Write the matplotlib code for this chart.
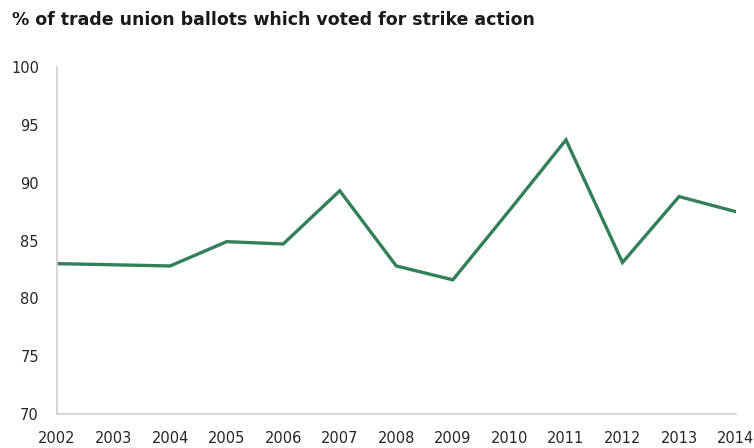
import matplotlib
matplotlib.use('Agg')
import matplotlib.pyplot as plt

# Share of trade union ballots voting for strike action (%)
years = [2002, 2003, 2004, 2005, 2006, 2007, 2008, 2009, 2010, 2011, 2012, 2013, 2014]
pct_for_strike = [83.0, 82.9, 82.8, 84.9, 84.7, 89.3, 82.8, 81.6, 87.6, 93.7, 83.1, 88.8, 87.5]
y_ticks = [70, 75, 80, 85, 90, 95, 100]

title = "% of trade union ballots which voted for strike action"
line_color = "#31805a"
axis_color = "#d0d0d0"
text_color = "#262626"

fig = plt.figure(figsize=(7.54, 4.48), dpi=100)
ax = fig.add_axes([0.0756, 0.0759, 0.9, 0.7745])

ax.plot(years, pct_for_strike, color=line_color, linewidth=2.4, solid_joinstyle='miter')

ax.set_xlim(years[0], years[-1])
ax.set_ylim(70, 100)
ax.set_xticks(years)
ax.set_yticks(y_ticks)
ax.tick_params(axis='both', length=0, labelsize=10.5, colors=text_color)
ax.tick_params(axis='x', pad=12)
ax.tick_params(axis='y', pad=13)

for side in ['top', 'right']:
    ax.spines[side].set_visible(False)
for side in ['left', 'bottom']:
    ax.spines[side].set_color(axis_color)
    ax.spines[side].set_linewidth(1.2)

fig.text(0.016, 0.955, title, fontsize=12.5, fontweight='bold', color='#1a1a1a',
         ha='left', va='center')

fig.savefig('out.png', dpi=100)
